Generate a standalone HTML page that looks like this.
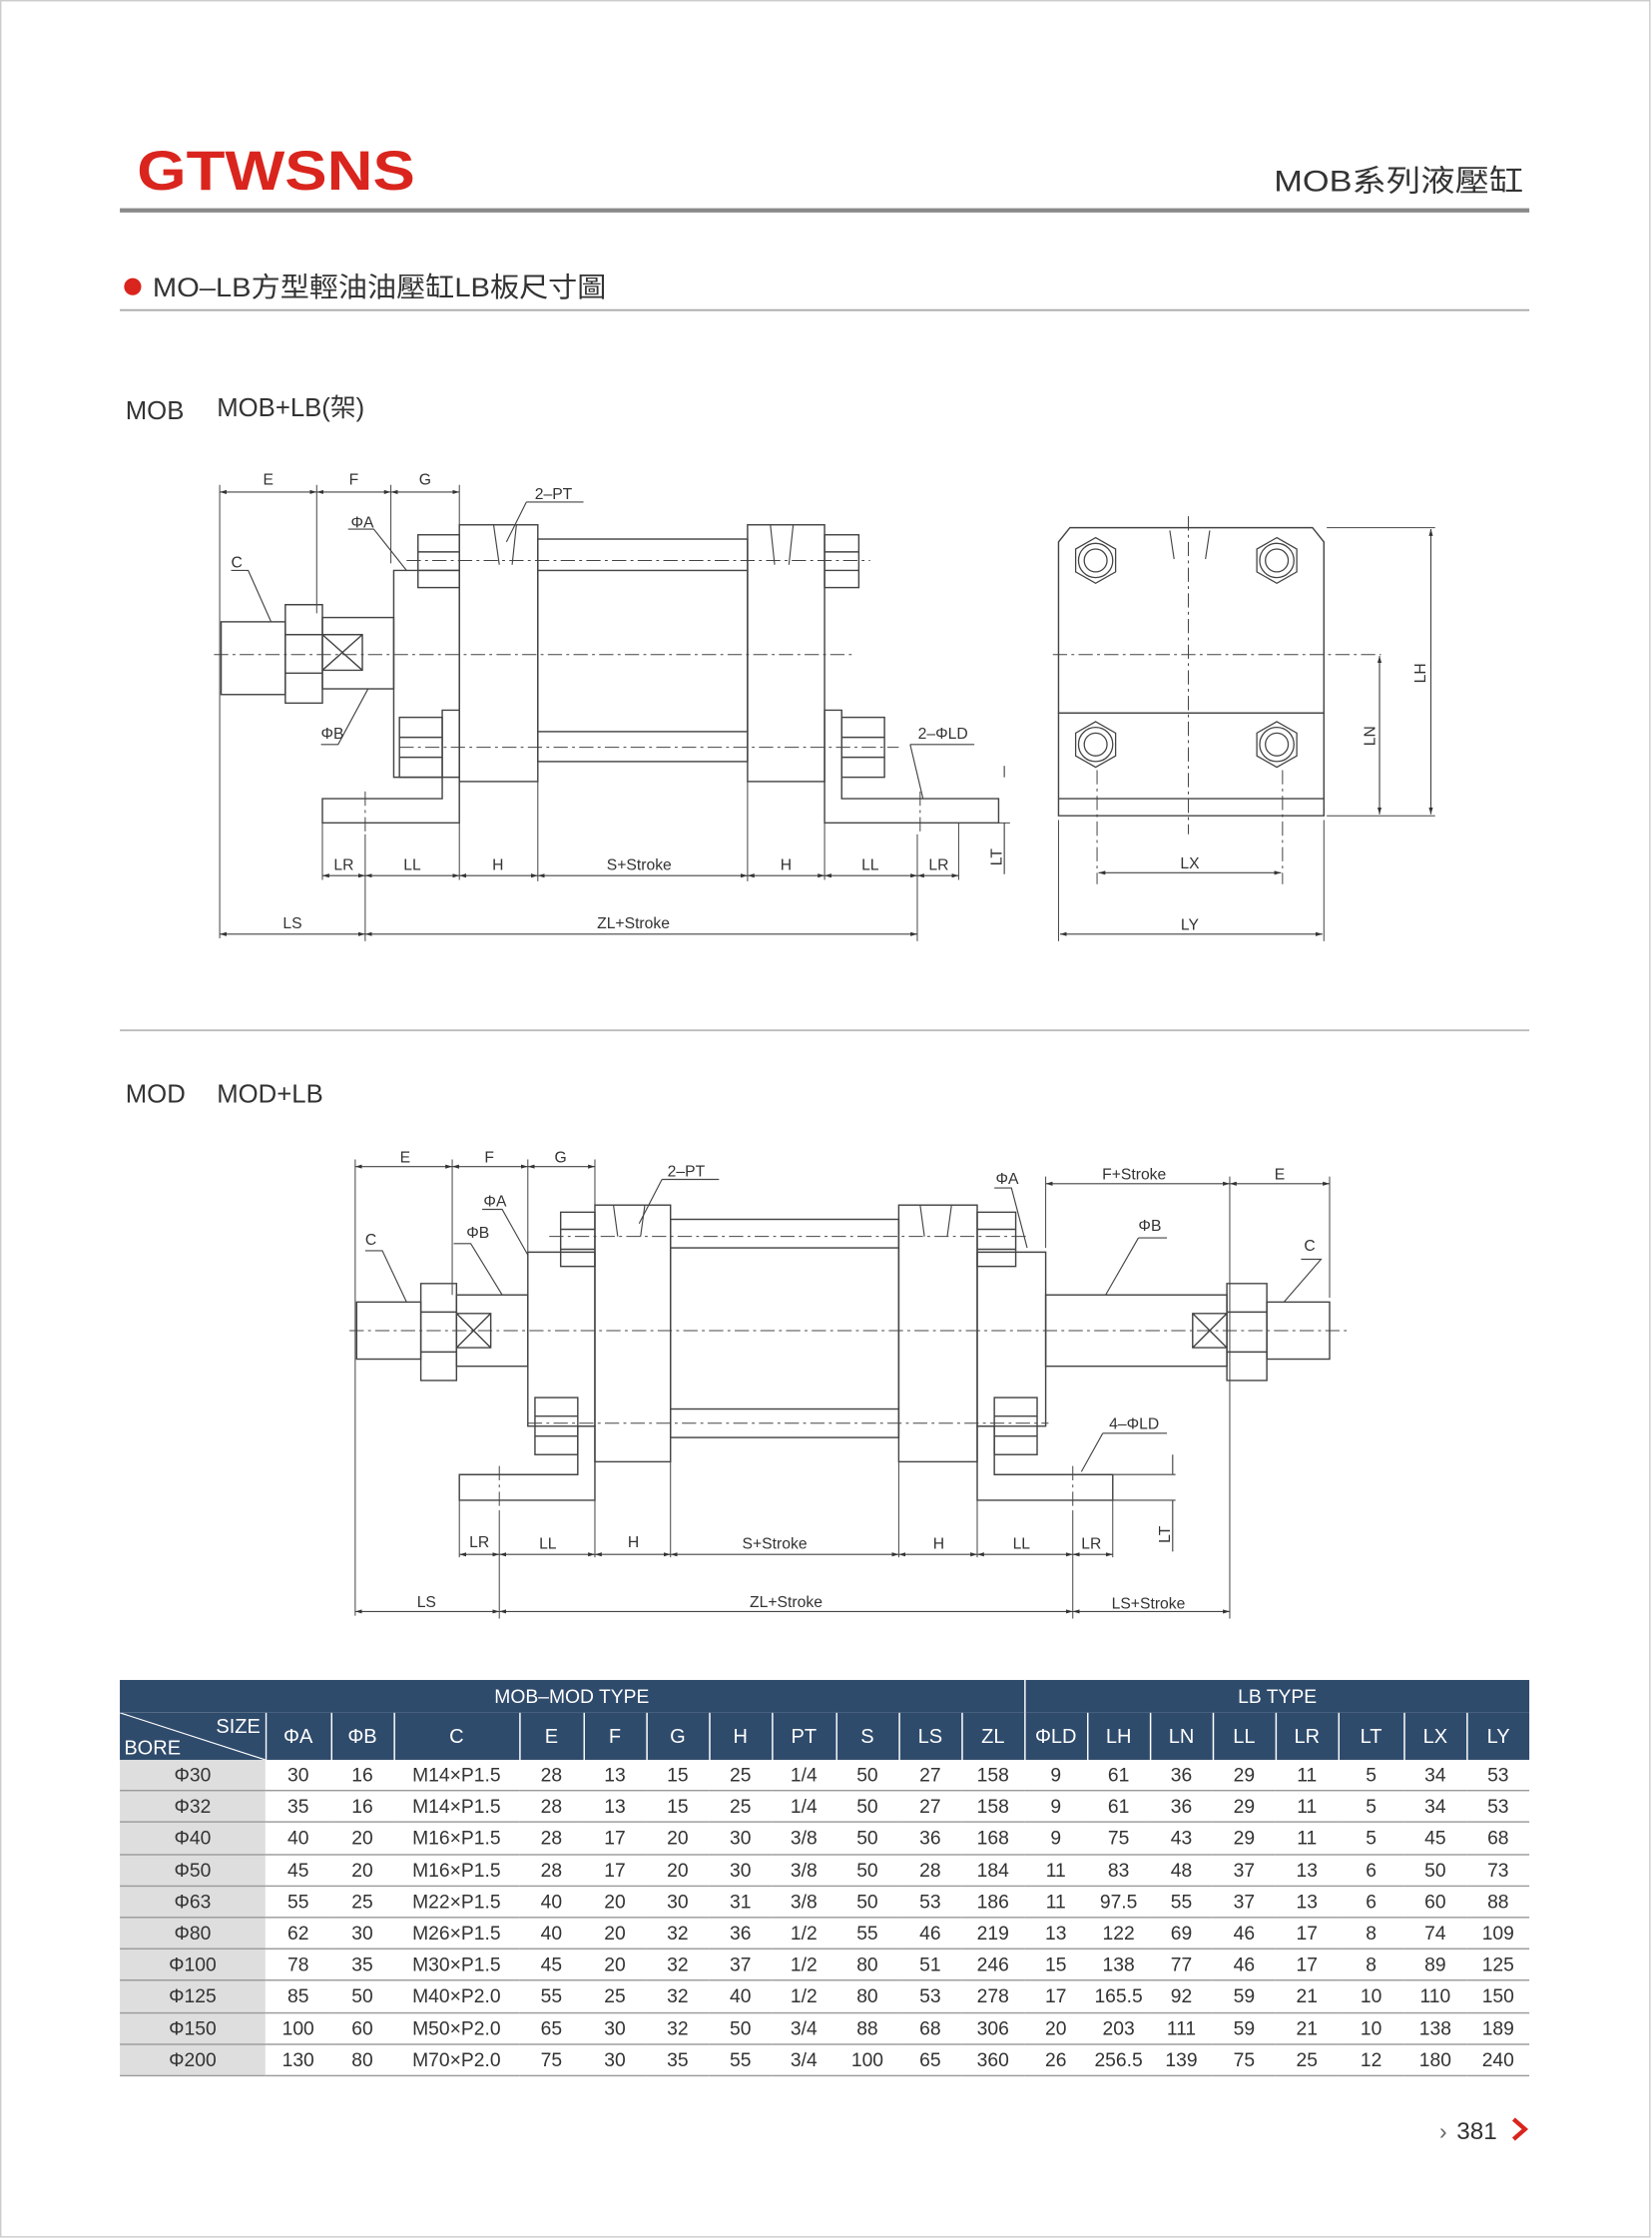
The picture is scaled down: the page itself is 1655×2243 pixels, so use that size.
<!DOCTYPE html>
<html><head><meta charset="utf-8">
<style>
html,body{margin:0;padding:0;background:#fff;}
#pg{position:absolute;left:0;top:0;width:1158px;height:1570px;transform:scale(1.42919,1.42866);transform-origin:0 0;font-family:"Liberation Sans","Noto Sans CJK TC",sans-serif;color:#333;}
svg{position:absolute;left:0;top:0;}
table{position:absolute;left:84px;top:1178px;border-collapse:collapse;table-layout:fixed;width:988px;font-size:13.5px;}
td{text-align:center;padding:0;height:21.2px;line-height:21px;border-bottom:1px solid #9a9a9a;color:#333;}
tr.h1 td{background:#2f4b6c;color:#fff;height:23px;border:none;font-size:13.5px;}
tr.h2 td{background:#2f4b6c;color:#fff;height:33px;border-left:1px solid #fff;border-bottom:none;font-size:14px;}
td.b{background:#dedede;}
</style></head><body>
<div id="pg">
<svg width="1158" height="1570" viewBox="0 0 1158 1570" font-family="Liberation Sans, Noto Sans CJK TC, sans-serif">
<defs>
<marker id="a" viewBox="0 0 10 10" refX="10" refY="5" markerWidth="6" markerHeight="6" orient="auto-start-reverse"><path d="M0,2 L10,5 L0,8z" fill="#333"/></marker>
</defs>
<rect x="0.5" y="0.5" width="1156" height="1568" fill="none" stroke="#ccc"/>
<text x="96" y="133" font-size="39" font-weight="bold" fill="#d9251d" textLength="195" lengthAdjust="spacingAndGlyphs">GTWSNS</text>
<text x="1068" y="134" font-size="21" text-anchor="end" fill="#333" textLength="175" lengthAdjust="spacingAndGlyphs">MOB系列液壓缸</text>
<rect x="84" y="146" width="988" height="3" fill="#8a8a8a"/>
<circle cx="93" cy="201" r="6" fill="#d9251d"/>
<text x="107" y="208" font-size="19" fill="#333" textLength="318" lengthAdjust="spacingAndGlyphs">MO–LB方型輕油油壓缸LB板尺寸圖</text>
<line x1="84" y1="217.5" x2="1072" y2="217.5" stroke="#aaa" stroke-width="1.3"/>
<text x="88" y="294" font-size="18" fill="#333">MOB</text>
<text x="152" y="292" font-size="18" fill="#333">MOB+LB(架)</text>
<line x1="84" y1="722.5" x2="1072" y2="722.5" stroke="#bbb" stroke-width="1.3"/>
<text x="88" y="773" font-size="18" fill="#333">MOD</text>
<text x="152" y="773" font-size="18" fill="#333">MOD+LB</text>

<g fill="none" stroke="#444" stroke-width="1">
<!-- ===== MOB drawing ===== -->
<rect x="155" y="436" width="45" height="51"/>
<path d="M200,424 h26 v69 h-26z M200,445 h26 M200,472 h26"/>
<rect x="226" y="433" width="50" height="50"/>
<path d="M226,445 h28 v25 h-28 M226,445 L254,470 M254,445 L226,470"/>
<path d="M276,400 h46 v145 h-46z"/>
<rect x="322" y="368" width="55" height="180"/>
<rect x="524" y="368" width="54" height="180"/>
<rect x="377" y="378" width="147" height="22"/>
<rect x="377" y="513" width="147" height="21"/>
<line x1="377" y1="400" x2="377" y2="513"/><line x1="524" y1="400" x2="524" y2="513"/>
<rect x="293" y="375" width="29" height="37"/><path d="M293,387 h29 M293,400 h29"/>
<rect x="280" y="503" width="30" height="42"/><path d="M280,517 h30 M280,531 h30"/>
<rect x="578" y="375" width="24" height="37"/><path d="M578,387 h24 M578,400 h24"/>
<rect x="590" y="503" width="30" height="42"/><path d="M590,517 h30 M590,531 h30"/>
<path d="M226,560 h84 v-62 h12 v79 h-96z"/>
<path d="M578,577 v-79 h12 v62 h110 v17z"/>
<path d="M346,368 l4,28 M362,368 l-3,28 M540,368 l3,28 M556,368 l-3,28" stroke-width="0.8"/>
<g stroke-dasharray="10,3,2,3" stroke-width="0.7">
<line x1="150" y1="459" x2="600" y2="459"/>
<line x1="285" y1="393" x2="610" y2="393"/>
<line x1="280" y1="524" x2="630" y2="524"/>
<line x1="256" y1="555" x2="256" y2="585"/>
<line x1="645" y1="555" x2="645" y2="585"/>
</g>
<g stroke-width="0.7">
<path d="M154,340 v318 M222,340 v90 M274,340 v55 M322,340 v30 M226,577 v40 M256,585 v75 M322,577 v40 M377,548 v70 M524,548 v70 M578,577 v40 M643,585 v75 M672,577 v40 M700,577 h8"/>
</g>
<g stroke-width="0.8" marker-start="url(#a)" marker-end="url(#a)">
<line x1="154" y1="345" x2="222" y2="345"/><line x1="222" y1="345" x2="274" y2="345"/><line x1="274" y1="345" x2="322" y2="345"/>
<line x1="226" y1="614" x2="256" y2="614"/><line x1="256" y1="614" x2="322" y2="614"/><line x1="322" y1="614" x2="377" y2="614"/><line x1="377" y1="614" x2="524" y2="614"/><line x1="524" y1="614" x2="578" y2="614"/><line x1="578" y1="614" x2="643" y2="614"/><line x1="643" y1="614" x2="672" y2="614"/>
<line x1="154" y1="655" x2="256" y2="655"/><line x1="256" y1="655" x2="643" y2="655"/>
</g>
<path d="M704,545 v-8 M704,577 v36" stroke-width="0.8"/>
<path d="M244,371 h18 L285,400 M162,400 h12 L190,436 M225,522 h12 L258,483 M369,352 h40 M369,352 L355,380 M638,522 h45 M638,522 L647,560" stroke-width="0.8"/>

<!-- side view -->
<path d="M750,370 h170 l8,10 v120 h-186 v-120z"/>
<path d="M742,500 h186 v72 h-186z M742,560 h186"/>
<g stroke-width="0.9">
<circle cx="768" cy="393" r="12"/><circle cx="768" cy="393" r="8"/><path d="M768,377 l14,8 v16 l-14,8 l-14,-8 v-16z"/>
<circle cx="895" cy="393" r="12"/><circle cx="895" cy="393" r="8"/><path d="M895,377 l14,8 v16 l-14,8 l-14,-8 v-16z"/>
<circle cx="768" cy="522" r="12"/><circle cx="768" cy="522" r="8"/><path d="M768,506 l14,8 v16 l-14,8 l-14,-8 v-16z"/>
<circle cx="895" cy="522" r="12"/><circle cx="895" cy="522" r="8"/><path d="M895,506 l14,8 v16 l-14,8 l-14,-8 v-16z"/>
</g>
<g stroke-dasharray="10,3,2,3" stroke-width="0.7">
<line x1="833" y1="362" x2="833" y2="585"/><line x1="738" y1="459" x2="968" y2="459"/>
<line x1="769" y1="540" x2="769" y2="620"/><line x1="899" y1="540" x2="899" y2="620"/>
</g>
<path d="M820,372 l3,20 M848,372 l-3,20" stroke-width="0.8"/>
<path d="M930,370 h76 M930,572 h76 M742,575 v85 M928,575 v85" stroke-width="0.7"/>
<g stroke-width="0.8" marker-start="url(#a)" marker-end="url(#a)">
<line x1="1003" y1="371" x2="1003" y2="571"/><line x1="967" y1="460" x2="967" y2="571"/>
<line x1="770" y1="612" x2="898" y2="612"/><line x1="743" y1="655" x2="927" y2="655"/>
</g>

<!-- ===== MOD drawing ===== -->
<rect x="250" y="913" width="45" height="40"/>
<path d="M295,900 h25 v68 h-25z M295,920 h25 M295,948 h25"/>
<rect x="320" y="908" width="50" height="50"/>
<path d="M320,921 h24 v24 h-24 M320,921 L344,945 M344,921 L320,945"/>
<path d="M370,878 h47 v122 h-47z"/>
<rect x="417" y="845" width="53" height="180"/>
<rect x="630" y="845" width="55" height="180"/>
<path d="M685,878 h48 v122 h-48z"/>
<rect x="470" y="855" width="160" height="20"/><rect x="470" y="988" width="160" height="20"/>
<line x1="470" y1="875" x2="470" y2="988"/><line x1="630" y1="875" x2="630" y2="988"/>
<rect x="733" y="908" width="127" height="50"/>
<path d="M860,921 h-24 v24 h24 M836,921 L860,945 M860,921 L836,945"/>
<path d="M860,900 h28 v68 h-28z M860,920 h28 M860,948 h28"/>
<rect x="888" y="913" width="44" height="40"/>
<rect x="393" y="850" width="24" height="38"/><path d="M393,862 h24 M393,876 h24"/>
<rect x="375" y="980" width="30" height="40"/><path d="M375,993 h30 M375,1007 h30"/>
<rect x="685" y="850" width="27" height="38"/><path d="M685,862 h27 M685,876 h27"/>
<rect x="697" y="980" width="30" height="40"/><path d="M697,993 h30 M697,1007 h30"/>
<path d="M322,1034 h83 v-34 h12 v52 h-95z"/>
<path d="M685,1052 v-52 h12 v34 h83 v18z"/>
<path d="M430,845 l3,22 M452,845 l-3,22 M645,845 l3,22 M667,845 l-3,22" stroke-width="0.8"/>
<g stroke-dasharray="10,3,2,3" stroke-width="0.7">
<line x1="245" y1="933" x2="945" y2="933"/>
<line x1="385" y1="867" x2="720" y2="867"/>
<line x1="370" y1="998" x2="735" y2="998"/>
<line x1="350" y1="1028" x2="350" y2="1060"/>
<line x1="752" y1="1028" x2="752" y2="1060"/>
</g>
<g stroke-width="0.7">
<path d="M249,813 v320 M317,813 v95 M370,813 v65 M417,813 v32 M322,1052 v40 M350,1060 v75 M417,1052 v40 M470,1025 v67 M630,1025 v67 M685,1052 v40 M752,1060 v75 M780,1052 v40 M733,825 v50 M862,825 v310 M932,825 v85"/>
</g>
<g stroke-width="0.8" marker-start="url(#a)" marker-end="url(#a)">
<line x1="249" y1="818" x2="317" y2="818"/><line x1="317" y1="818" x2="370" y2="818"/><line x1="370" y1="818" x2="417" y2="818"/>
<line x1="733" y1="830" x2="862" y2="830"/><line x1="862" y1="830" x2="932" y2="830"/>
<line x1="322" y1="1090" x2="350" y2="1090"/><line x1="350" y1="1090" x2="417" y2="1090"/><line x1="417" y1="1090" x2="470" y2="1090"/><line x1="470" y1="1090" x2="630" y2="1090"/><line x1="630" y1="1090" x2="685" y2="1090"/><line x1="685" y1="1090" x2="752" y2="1090"/><line x1="752" y1="1090" x2="780" y2="1090"/>
<line x1="249" y1="1130" x2="350" y2="1130"/><line x1="350" y1="1130" x2="752" y2="1130"/><line x1="752" y1="1130" x2="862" y2="1130"/>
</g>
<path d="M780,1034 h44 M780,1052 h44 M822,1034 v-14 M822,1052 v36" stroke-width="0.8"/>
<path d="M338,848 h14 L370,880 M318,872 h12 L352,908 M256,877 h12 L285,913 M464,827 h40 M464,827 L448,858 M697,833 h12 L720,875 M798,868 h20 M798,868 L775,908 M912,883 h14 L900,913 M773,1005 h45 M773,1005 L758,1032" stroke-width="0.8"/>
</g>

<g font-size="11" fill="#333" text-anchor="middle">
<text x="188" y="340">E</text><text x="248" y="340">F</text><text x="298" y="340">G</text>
<text x="388" y="350">2–PT</text><text x="254" y="370">ΦA</text><text x="166" y="398">C</text><text x="233" y="518">ΦB</text>
<text x="661" y="518">2–ΦLD</text>
<text x="241" y="610">LR</text><text x="289" y="610">LL</text><text x="349" y="610">H</text><text x="448" y="610">S+Stroke</text><text x="551" y="610">H</text><text x="610" y="610">LL</text><text x="658" y="610">LR</text>
<text x="205" y="651">LS</text><text x="444" y="651">ZL+Stroke</text>
<text x="834" y="609">LX</text><text x="834" y="652">LY</text>
<text transform="translate(702,601) rotate(-90)">LT</text>
<text transform="translate(999,472) rotate(-90)">LH</text>
<text transform="translate(964,516) rotate(-90)">LN</text>

<text x="284" y="815">E</text><text x="343" y="815">F</text><text x="393" y="815">G</text>
<text x="481" y="825">2–PT</text><text x="347" y="846">ΦA</text><text x="335" y="868">ΦB</text><text x="260" y="873">C</text>
<text x="706" y="830">ΦA</text><text x="795" y="827">F+Stroke</text><text x="897" y="827">E</text>
<text x="806" y="863">ΦB</text><text x="918" y="877">C</text><text x="795" y="1002">4–ΦLD</text>
<text x="336" y="1085">LR</text><text x="384" y="1086">LL</text><text x="444" y="1085">H</text><text x="543" y="1086">S+Stroke</text><text x="658" y="1086">H</text><text x="716" y="1086">LL</text><text x="765" y="1086">LR</text>
<text x="299" y="1127">LS</text><text x="551" y="1127">ZL+Stroke</text><text x="805" y="1128">LS+Stroke</text>
<text transform="translate(820,1076) rotate(-90)">LT</text>
</g>

<text x="1009" y="1500" font-size="16" fill="#666">›</text>
<text x="1021" y="1500" font-size="17" fill="#333">381</text>
<path d="M1061,1486 l8,7 l-8,7" fill="none" stroke="#d9251d" stroke-width="3"/>
</svg>

<table>
<colgroup><col style="width:102px"><col style="width:46px"><col style="width:44px"><col style="width:88px"><col style="width:45px"><col style="width:44px"><col style="width:44px"><col style="width:44px"><col style="width:45px"><col style="width:44px"><col style="width:44px"><col style="width:44px"><col style="width:44px"><col style="width:44px"><col style="width:44px"><col style="width:44px"><col style="width:44px"><col style="width:46px"><col style="width:44px"><col style="width:44px"></colgroup>
<tr class="h1"><td colspan="12" style="border-right:1px solid #fff">MOB–MOD TYPE</td><td colspan="8">LB TYPE</td></tr>
<tr class="h2"><td style="border-left:none;position:relative;text-align:left"><svg width="102" height="33" style="position:absolute;left:0;top:0"><line x1="0" y1="0" x2="102" y2="33" stroke="#fff" stroke-width="0.8"/></svg><span style="position:absolute;right:3px;top:1px;line-height:16px">SIZE</span><span style="position:absolute;left:3px;bottom:1px;line-height:16px">BORE</span></td><td>ΦA</td><td>ΦB</td><td>C</td><td>E</td><td>F</td><td>G</td><td>H</td><td>PT</td><td>S</td><td>LS</td><td>ZL</td><td>ΦLD</td><td>LH</td><td>LN</td><td>LL</td><td>LR</td><td>LT</td><td>LX</td><td>LY</td></tr>
<tr><td class="b">Φ30</td><td>30</td><td>16</td><td>M14×P1.5</td><td>28</td><td>13</td><td>15</td><td>25</td><td>1/4</td><td>50</td><td>27</td><td>158</td><td>9</td><td>61</td><td>36</td><td>29</td><td>11</td><td>5</td><td>34</td><td>53</td></tr>
<tr><td class="b">Φ32</td><td>35</td><td>16</td><td>M14×P1.5</td><td>28</td><td>13</td><td>15</td><td>25</td><td>1/4</td><td>50</td><td>27</td><td>158</td><td>9</td><td>61</td><td>36</td><td>29</td><td>11</td><td>5</td><td>34</td><td>53</td></tr>
<tr><td class="b">Φ40</td><td>40</td><td>20</td><td>M16×P1.5</td><td>28</td><td>17</td><td>20</td><td>30</td><td>3/8</td><td>50</td><td>36</td><td>168</td><td>9</td><td>75</td><td>43</td><td>29</td><td>11</td><td>5</td><td>45</td><td>68</td></tr>
<tr><td class="b">Φ50</td><td>45</td><td>20</td><td>M16×P1.5</td><td>28</td><td>17</td><td>20</td><td>30</td><td>3/8</td><td>50</td><td>28</td><td>184</td><td>11</td><td>83</td><td>48</td><td>37</td><td>13</td><td>6</td><td>50</td><td>73</td></tr>
<tr><td class="b">Φ63</td><td>55</td><td>25</td><td>M22×P1.5</td><td>40</td><td>20</td><td>30</td><td>31</td><td>3/8</td><td>50</td><td>53</td><td>186</td><td>11</td><td>97.5</td><td>55</td><td>37</td><td>13</td><td>6</td><td>60</td><td>88</td></tr>
<tr><td class="b">Φ80</td><td>62</td><td>30</td><td>M26×P1.5</td><td>40</td><td>20</td><td>32</td><td>36</td><td>1/2</td><td>55</td><td>46</td><td>219</td><td>13</td><td>122</td><td>69</td><td>46</td><td>17</td><td>8</td><td>74</td><td>109</td></tr>
<tr><td class="b">Φ100</td><td>78</td><td>35</td><td>M30×P1.5</td><td>45</td><td>20</td><td>32</td><td>37</td><td>1/2</td><td>80</td><td>51</td><td>246</td><td>15</td><td>138</td><td>77</td><td>46</td><td>17</td><td>8</td><td>89</td><td>125</td></tr>
<tr><td class="b">Φ125</td><td>85</td><td>50</td><td>M40×P2.0</td><td>55</td><td>25</td><td>32</td><td>40</td><td>1/2</td><td>80</td><td>53</td><td>278</td><td>17</td><td>165.5</td><td>92</td><td>59</td><td>21</td><td>10</td><td>110</td><td>150</td></tr>
<tr><td class="b">Φ150</td><td>100</td><td>60</td><td>M50×P2.0</td><td>65</td><td>30</td><td>32</td><td>50</td><td>3/4</td><td>88</td><td>68</td><td>306</td><td>20</td><td>203</td><td>111</td><td>59</td><td>21</td><td>10</td><td>138</td><td>189</td></tr>
<tr><td class="b">Φ200</td><td>130</td><td>80</td><td>M70×P2.0</td><td>75</td><td>30</td><td>35</td><td>55</td><td>3/4</td><td>100</td><td>65</td><td>360</td><td>26</td><td>256.5</td><td>139</td><td>75</td><td>25</td><td>12</td><td>180</td><td>240</td></tr>
</table>
</div>
</body></html>
